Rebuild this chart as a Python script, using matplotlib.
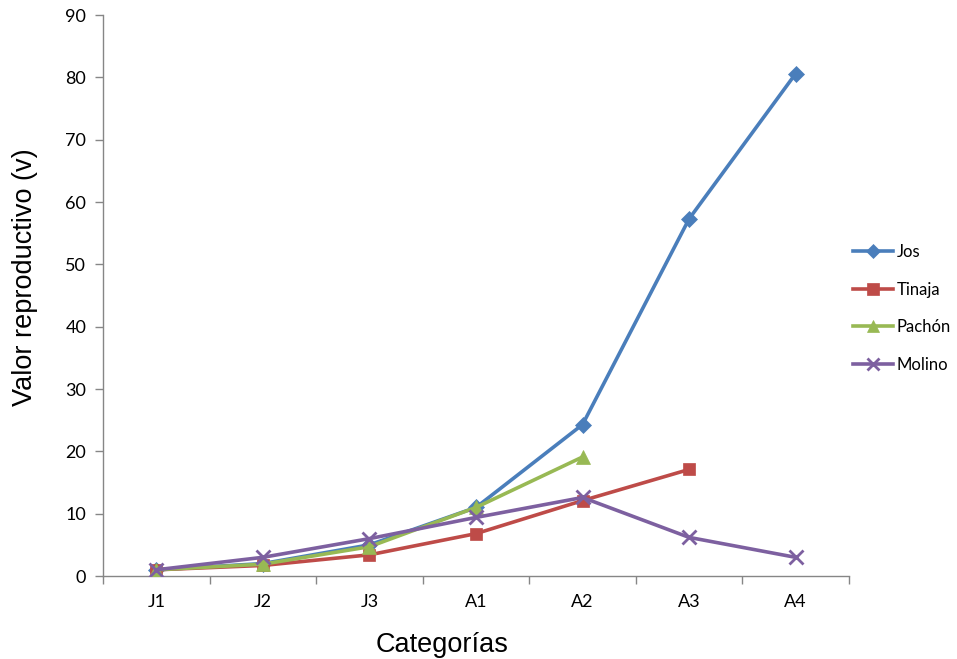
import matplotlib
matplotlib.use("Agg")
import matplotlib.pyplot as plt
import numpy as np

categorias = ["J1", "J2", "J3", "A1", "A2", "A3", "A4"]

jos = [1.0, 2.0, 5.0, 11.0, 24.3, 57.3, 80.6]
tinaja = [1.0, 1.7, 3.4, 6.8, 12.1, 17.1]
pachon = [1.0, 1.9, 4.7, 11.0, 19.1]
molino = [1.0, 3.0, 6.0, 9.4, 12.6, 6.2, 3.0]

series = [
    ("Jos", jos, "#4A7EBB", "D", 8),
    ("Tinaja", tinaja, "#BE4B48", "s", 9),
    ("Pachón", pachon, "#98B954", "^", 10),
    ("Molino", molino, "#7D60A0", "x", 10),
]

fig = plt.figure(figsize=(9.57, 6.59), dpi=100)
ax = fig.add_axes([0.1076, 0.1259, 0.7795, 0.8513])

for nombre, vals, color, mk, ms in series:
    x = np.arange(len(vals))
    ax.plot(x, vals, color=color, lw=2.6, marker=mk, markersize=ms,
            markeredgewidth=2 if mk == "x" else 0.5, markeredgecolor=color,
            label=nombre, zorder=3)

ax.set_xlim(-0.5, len(categorias) - 0.5)
ax.set_ylim(0, 90)
ax.set_yticks(np.arange(0, 91, 10))
ax.set_xticks(np.arange(len(categorias)))
ax.set_xticklabels(categorias)
ax.set_xticks(np.arange(-0.5, len(categorias)), minor=True)

tick_font = "Lato"
for lab in ax.get_xticklabels() + ax.get_yticklabels():
    lab.set_fontfamily(tick_font)
    lab.set_fontsize(13)

ax.tick_params(axis="x", which="major", length=0, pad=13)
ax.tick_params(axis="x", which="minor", length=6, color="#868686", width=1)
ax.tick_params(axis="y", length=6, color="#868686", width=1, pad=6)

for s in ["top", "right"]:
    ax.spines[s].set_visible(False)
for s in ["left", "bottom"]:
    ax.spines[s].set_color("#868686")
    ax.spines[s].set_linewidth(1)

ax.set_ylabel("Valor reproductivo (v)", fontfamily="Liberation Sans", fontsize=19.5, va="center")
ax.set_xlabel("Categorías", fontfamily="Liberation Sans", fontsize=19.5, va="center")
ax.yaxis.set_label_coords(-0.105, 0.533)
ax.xaxis.set_label_coords(0.454, -0.123)

leg = ax.legend(loc="center left", bbox_to_anchor=(1.006, 0.477), frameon=False,
                prop={"family": tick_font, "size": 12}, handlelength=2.4,
                handletextpad=0.2, borderpad=0, borderaxespad=0,
                labelspacing=1.3, markerscale=0.9)

fig.savefig("out.png", dpi=100)
